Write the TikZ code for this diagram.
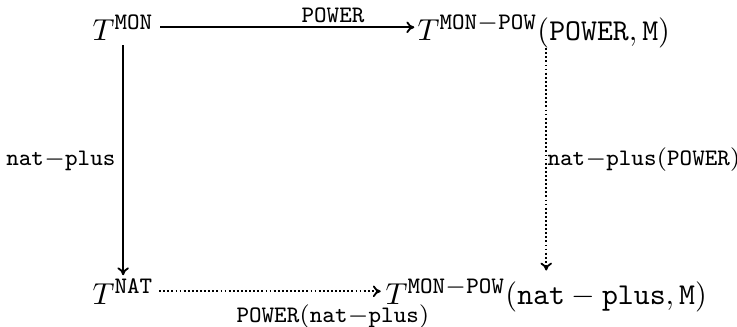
\RequirePackage{fix-cm}
\documentclass[tikz,border=0pt]{standalone}
\usetikzlibrary{arrows.meta}
\DeclareMathSizes{10}{10}{7.8}{5.5}
\begin{document}
\begin{tikzpicture}[x=0.33pt,y=-0.33pt,
  obj/.style={inner sep=0pt,anchor=base west},
  lab/.style={inner sep=0pt},
  arr/.style={line width=0.6pt,-{To[length=2.6pt,width=3.8pt]}},
  dotarr/.style={arr,dash pattern=on 0.6pt off 0.75pt}]
\useasboundingbox (0,0) rectangle (737,326);
\node[obj] (tl) at (92,40) {$T^{\mathtt{MON}}$};
\node[obj] (tr) at (417,40) {$T^{\mathtt{MON-POW}}(\mathtt{POWER},\mathtt{M})$};
\node[obj] (bl) at (92,304) {$T^{\mathtt{NAT}}$};
\node[obj] (br) at (385,304) {$T^{\mathtt{MON-POW}}(\mathtt{nat}-\mathtt{plus},\mathtt{M})$};
\draw[arr,shorten <=2pt,shorten >=0.9pt] (tl.east) -- (tl.east -| tr.west);
\draw[dotarr,shorten <=1.6pt,shorten >=1.4pt] (bl.east) -- (bl.east -| br.west);
\draw[arr,shorten <=1.6pt,shorten >=0.9pt] (tl.south) -- (bl.north);
\draw[dotarr,shorten <=0pt,shorten >=2.4pt] (br.north |- tr.south) -- (br.north);
\node[lab,anchor=base] (ltop) at (333,22) {$\scriptstyle\mathtt{POWER}$};
\node[lab,anchor=base] (lbot) at (333,322) {$\scriptstyle\mathtt{POWER}(\mathtt{nat{-}plus})$};
\node[lab,anchor=base east] (lleft) at (116,165) {$\scriptstyle\mathtt{nat{-}plus}$};
\node[lab,anchor=base west] (lright) at (547,165) {$\scriptstyle\mathtt{nat{-}plus}(\mathtt{POWER})$};
\end{tikzpicture}
\end{document}
